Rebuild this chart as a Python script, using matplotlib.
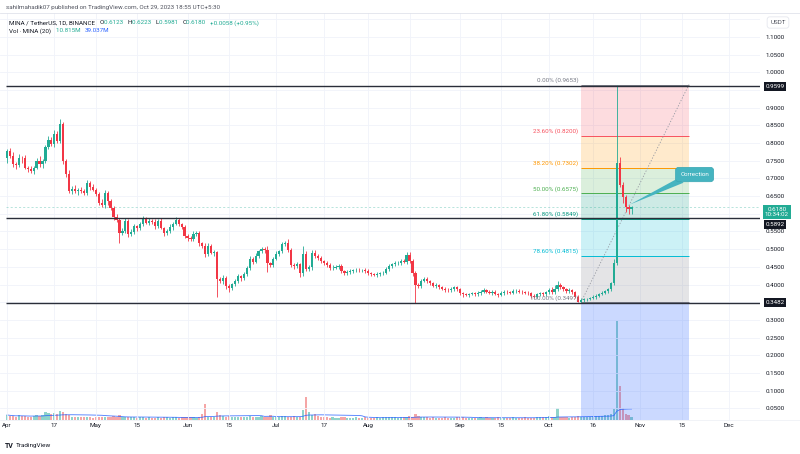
import matplotlib
matplotlib.use("Agg")
import matplotlib.pyplot as plt
import matplotlib.transforms as mtransforms
from matplotlib.lines import Line2D
from matplotlib.patches import Polygon
import numpy as np
import pandas as pd

plt.rcParams['font.family'] = ['Roboto', 'DejaVu Sans']

# ---- data (MINA/USDT daily, Binance) ----
start = pd.Timestamp('2023-04-01')
first_open = 0.759
closes = [
    .778, .764, .741, .738, .759, .757, .730, .727, .722, .730,
    .750, .741, .750, .790, .810, .798, .827, .805, .855, .750,
    .713, .665, .670, .665, .668, .664, .660, .688, .676, .668,
    .656, .631, .625, .659, .636, .616, .590, .582, .545, .550,
    .580, .543, .548, .565, .560, .571, .585, .574, .580, .577,
    .565, .580, .560, .545, .551, .562, .571, .582, .571, .562,
    .537, .531, .528, .543, .545, .517, .509, .486, .509, .489,
    .491, .415, .409, .418, .395, .389, .401, .409, .423, .418,
    .429, .446, .472, .465, .480, .494, .500, .498, .460, .455,
    .472, .486, .494, .514, .517, .497, .455, .452, .457, .432,
    .486, .443, .450, .489, .480, .474, .466, .460, .455, .446,
    .448, .450, .452, .438, .432, .435, .438, .440, .441, .440,
    .441, .437, .432, .429, .427, .429, .432, .434, .443, .452,
    .457, .460, .462, .466, .464, .483, .466, .432, .398, .395,
    .410, .415, .410, .403, .396, .398, .392, .388, .385, .384,
    .388, .392, .386, .375, .372, .371, .373, .375, .372, .376,
    .380, .384, .380, .376, .380, .373, .371, .376, .380, .378,
    .377, .381, .383, .380, .378, .377, .375, .368, .366, .372,
    .375, .372, .378, .384, .380, .388, .398, .392, .386, .381,
    .384, .378, .366, .352, .357, .358, .360, .362, .365, .368,
    .372, .376, .381, .386, .403, .462, .743, .681, .648, .620,
    .6123, .618,
]
# wick lengths above / below the body, in thousandths of USDT
wick_up = [
    6, 8, 12, 5, 9, 4, 10, 6, 7, 5, 8, 12, 6, 5, 9, 8, 10, 8, 14, 4,
    6, 10, 8, 12, 6, 9, 5, 8, 4, 7, 6, 5, 10, 8, 6, 5, 7, 9, 6, 10,
    8, 5, 9, 6, 4, 7, 10, 5, 8, 6, 9, 5, 7, 4, 6, 8, 5, 9, 7, 4,
    6, 5, 7, 9, 5, 6, 4, 8, 9, 5, 7, 5, 6, 8, 5, 7, 4, 6, 8, 5,
    7, 5, 9, 6, 8, 5, 7, 6, 10, 5, 6, 8, 5, 7, 6, 12, 5, 6, 8, 5,
    22, 10, 6, 9, 8, 5, 6, 4, 7, 5, 6, 4, 5, 6, 4, 5, 6, 4, 5, 6,
    4, 5, 6, 4, 5, 6, 4, 5, 6, 7, 5, 6, 4, 6, 5, 8, 8, 5, 6, 5,
    7, 5, 6, 4, 5, 6, 4, 5, 4, 5, 6, 5, 4, 5, 4, 5, 4, 5, 4, 5,
    4, 5, 4, 5, 4, 5, 4, 5, 4, 5, 4, 5, 4, 5, 4, 5, 4, 5, 4, 5,
    4, 5, 4, 6, 8, 10, 12, 6, 5, 4, 5, 4, 5, 4, 5, 4, 3, 4, 5, 4,
    4, 5, 4, 5, 5, 10, 222, 17, 8, 6, 5, 4,
]
wick_dn = [
    14, 6, 8, 10, 5, 12, 4, 8, 6, 10, 4, 9, 12, 5, 6, 5, 8, 6, 4, 10,
    8, 5, 10, 6, 12, 5, 8, 6, 9, 4, 7, 5, 6, 8, 10, 6, 8, 5, 27, 6,
    5, 8, 6, 4, 9, 5, 6, 4, 7, 5, 8, 6, 4, 7, 5, 6, 8, 4, 6, 5,
    6, 8, 4, 6, 5, 7, 5, 8, 6, 4, 9, 49, 6, 8, 7, 9, 5, 6, 4, 7,
    5, 6, 4, 7, 5, 6, 4, 8, 25, 6, 5, 4, 6, 5, 4, 6, 5, 8, 6, 10,
    8, 6, 5, 9, 4, 5, 6, 4, 5, 6, 4, 5, 6, 4, 5, 6, 4, 5, 4, 5,
    4, 5, 4, 5, 4, 6, 5, 4, 5, 4, 5, 4, 5, 6, 4, 5, 6, 8, 50, 6,
    5, 4, 6, 5, 4, 5, 6, 4, 5, 4, 5, 6, 4, 5, 6, 4, 5, 4, 5, 4,
    5, 4, 5, 4, 5, 4, 6, 4, 5, 4, 5, 4, 5, 4, 5, 4, 6, 5, 4, 5,
    4, 5, 4, 5, 6, 8, 6, 5, 4, 5, 4, 6, 5, 2, 4, 5, 4, 3, 4, 5,
    4, 3, 4, 5, 4, 5, 7, 4, 18, 15, 14, 14,
]
# daily volume, millions of MINA
volumes = [
    18, 15, 14, 12, 16, 13, 14, 12, 11, 13, 17, 14, 16, 28, 24, 20, 26, 22, 32, 30,
    22, 18, 12, 10, 9, 11, 10, 12, 9, 8, 9, 12, 10, 11, 9, 10, 13, 12, 16, 11, 10,
    10, 9, 11, 8, 9, 10, 8, 9, 7, 8, 9, 8, 10, 9, 8, 9, 11, 8, 9, 10,
    12, 10, 9, 8, 10, 22, 58, 12, 10, 11,
    30, 18, 14, 12, 15, 11, 10, 9, 11, 10, 12, 14, 12, 10, 11, 13, 12, 11, 16, 12,
    10, 11, 13, 15, 12, 11, 14, 10, 9,
    35, 81, 30, 18, 20, 14, 12, 10, 9, 8, 9, 8, 7, 9, 10, 8, 7, 8, 9, 7,
    8, 9, 8, 7, 8, 9, 8, 10, 9, 11, 10,
    9, 8, 10, 9, 12, 14, 10, 22, 14, 11, 10, 9, 8, 9, 8, 7, 8, 9, 8, 7,
    8, 9, 10, 9, 8, 7, 8, 7, 8, 9,
    8, 9, 8, 7, 8, 9, 7, 8, 7, 8, 9, 8, 7, 8, 9, 8, 7, 8, 9, 10,
    9, 12, 14, 10, 9, 42, 12, 10, 9, 8, 9,
    12, 13, 11, 11, 12, 12, 13, 14, 14, 15, 16, 18, 20, 39, 350, 120, 42, 21, 18, 10.8,
]

fib_ratios = [0.0, 0.236, 0.382, 0.5, 0.618, 0.786, 1.0]
fib_prices = [0.9653, 0.8200, 0.7302, 0.6575, 0.5849, 0.4815, 0.3497]
fib_colors = ['#787b86', '#f7525f', '#ff9800', '#4caf50', '#089981', '#00bcd4', '#787b86']
band_colors = ['#f7525f', '#ff9800', '#4caf50', '#089981', '#00bcd4', '#787b86']
key_levels = [0.9599, 0.5892, 0.3482]
last_price = 0.6180

tick_dates = ['2023-04-01', '2023-04-17', '2023-05-01', '2023-05-15', '2023-06-01',
              '2023-06-15', '2023-07-01', '2023-07-17', '2023-08-01', '2023-08-15',
              '2023-09-01', '2023-09-15', '2023-10-01', '2023-10-16', '2023-11-01',
              '2023-11-15', '2023-12-01']
tick_names = ['Apr', '17', 'May', '15', 'Jun', '15', 'Jul', '17', 'Aug', '15',
              'Sep', '15', 'Oct', '16', 'Nov', '15', 'Dec']

GREEN = '#22ab94'
RED = '#f23645'
TXT = '#131722'

W, H = 800, 454
fig = plt.figure(figsize=(W / 100, H / 100), dpi=100)
fig.patch.set_facecolor('white')


def fx(x):
    return x / W


def fy(y):
    return 1 - y / H


# volume pane sits under the price pane (same x range)
axv = fig.add_axes([0, fy(420), fx(760), 100 / H])
ax = fig.add_axes([0, fy(420), fx(760), (420 - 13) / H])
for a in (axv, ax):
    a.set_facecolor('none')
    a.set_xlim(-2.36, 254.4)
    for s in a.spines.values():
        s.set_visible(False)
axv.set_ylim(0, 353.5)
axv.set_xticks([])
axv.set_yticks([])
ax.set_ylim(0.0170, 1.1677)

dates = pd.date_range(start, periods=len(closes), freq='D')
x = np.asarray((dates - start).days, dtype=float)
closes = np.array(closes)
opens = np.r_[first_open, closes[:-1]]
up = closes >= opens
highs = np.maximum(opens, closes) + np.array(wick_up) / 1000
lows = np.minimum(opens, closes) - np.array(wick_dn) / 1000
colors = np.where(up, GREEN, RED)

# volume + MA(20)
axv.bar(x, volumes, width=0.75, color=np.where(up, '#8fd3ca', '#f5a6a6'), lw=0)
vol_ma = pd.Series(volumes).rolling(20, min_periods=1).mean()
axv.plot(x, vol_ma, color='#2962ff', lw=0.6, alpha=0.85)

# grid / ticks
tick_days = [(pd.Timestamp(d) - start).days for d in tick_dates]
ax.set_xticks(tick_days)
ax.set_xticklabels(tick_names)
grid_prices = np.round(np.arange(0.05, 1.151, 0.05), 2)
hidden = {0.95, 0.6, 0.35, 1.15}
ax.set_yticks(grid_prices)
ax.set_yticklabels(['' if p in hidden else f'{p:.4f}' for p in grid_prices])
ax.yaxis.tick_right()
ax.tick_params(axis='y', length=0, pad=4.3, labelsize=4.5, labelcolor=TXT)
ax.tick_params(axis='x', length=0, pad=2.5, labelsize=4.5, labelcolor=TXT)
ax.grid(True, color='#f0f3fa', lw=0.6, zorder=0)
ax.set_axisbelow(True)

# candles
ax.vlines(x, lows, highs, colors=colors, lw=0.6, zorder=4)
ax.bar(x, np.maximum(np.abs(closes - opens), 0.0015), bottom=np.minimum(opens, closes),
       width=0.75, color=colors, lw=0, zorder=5)

# fibonacci retracement box
fx0, fx1 = 193.9, 230.4
for i, c in enumerate(band_colors):
    ax.fill_between([fx0, fx1], fib_prices[i], fib_prices[i + 1], color=c, alpha=0.2, lw=0, zorder=1)
ax.fill_between([fx0, fx1], fib_prices[-1], 0.0170, color='#2962ff', alpha=0.24, lw=0, zorder=1)
for r, p, c in zip(fib_ratios, fib_prices, fib_colors):
    ax.hlines(p, fx0, fx1, color=c, lw=0.7, zorder=2)
    ax.annotate(f'{r * 100:.2f}% ({p:.4f})', xy=(fx0, p), xytext=(-2, 1.2),
                textcoords='offset points', ha='right', va='bottom', color=c, fontsize=4.5, zorder=7)
ax.plot([fx0, fx1], [fib_prices[-1], fib_prices[0]], color='#9598a1', lw=0.6,
        ls=(0, (1.5, 2)), zorder=3)

# horizontal levels and last price line
for lv in key_levels:
    ax.hlines(lv, -0.3, 254.4, color='#2a2e39', lw=1.0, zorder=6)
ax.hlines(last_price, -0.3, 254.4, color=GREEN, lw=0.5, alpha=0.45, ls=(0, (3, 3)), zorder=3)

# "Correction" callout
ax.add_patch(Polygon([[210.4, 0.626], [226.4, 0.699], [228.6, 0.688]], closed=True,
                     fc='#45b4c0', ec='none', zorder=8))
ax.text(232.3, 0.711, 'Correction', ha='center', va='center', color='white', fontsize=4.5,
        zorder=9, bbox=dict(boxstyle='round,pad=0.75,rounding_size=0.5', fc='#45b4c0', ec='#3aa7b3', lw=0.5))

# right-axis labels
trans = mtransforms.blended_transform_factory(fig.transFigure, ax.transData)
shifts = {0.9599: 0, 0.5892: -4.7, 0.3482: 0}
for lv in key_levels:
    ax.annotate(f'{lv:.4f}', xy=(fx(775), lv), xycoords=trans, xytext=(0, shifts[lv]),
                textcoords='offset points', ha='center', va='center', color='white', fontsize=4.5,
                annotation_clip=False, zorder=10,
                bbox=dict(boxstyle='square,pad=0.3', fc='#131722', ec='none'))
ax.annotate(f'{last_price:.4f}\n10:34:02', xy=(fx(777), last_price), xycoords=trans, xytext=(0, -3.3),
            textcoords='offset points', ha='center', va='center', color='white', fontsize=4.5,
            linespacing=1.15, annotation_clip=False, zorder=10,
            bbox=dict(boxstyle='square,pad=0.3', fc=GREEN, ec='none'))
fig.text(fx(778), fy(22.5), 'USDT', ha='center', va='center', color='#50535e', fontsize=4.5,
         bbox=dict(boxstyle='round,pad=0.5,rounding_size=0.4', fc='white', ec='#e0e3eb', lw=0.5))

# pane separators
fig.add_artist(Line2D([0, 1], [fy(13), fy(13)], color='#e0e3eb', lw=0.6))
fig.add_artist(Line2D([0, 1], [fy(420), fy(420)], color='#eceff4', lw=0.5))

# header texts
fig.text(fx(6), fy(7), 'sahilmahadik07 published on TradingView.com, Oct 29, 2023 18:55 UTC+5:30',
         color='#50535e', fontsize=4.5, va='center')
renderer = fig.canvas.get_renderer()


def chain(xp, yp, parts):
    for s, c in parts:
        t = fig.text(fx(xp), fy(yp), s, color=c, fontsize=4.5, va='center', ha='left')
        bb = t.get_window_extent(renderer)
        xp = bb.x1


chain(9, 23, [('MINA / TetherUS, 1D, BINANCE   ', TXT), ('O', TXT), ('0.6123   ', GREEN),
              ('H', TXT), ('0.6223   ', GREEN), ('L', TXT), ('0.5981   ', GREEN),
              ('C', TXT), ('0.6180   ', GREEN), ('+0.0058 (+0.95%)', GREEN)])
chain(9, 31, [('Vol · MINA (20)   ', TXT), ('10.815M   ', GREEN), ('39.037M', '#2962ff')])

fig.text(fx(5), fy(446), 'TV', color=TXT, fontsize=5, fontweight='bold', va='center')
fig.text(fx(16), fy(446), 'TradingView', color=TXT, fontsize=4.6, va='center')

fig.savefig('out.png', dpi=100, facecolor='white')
